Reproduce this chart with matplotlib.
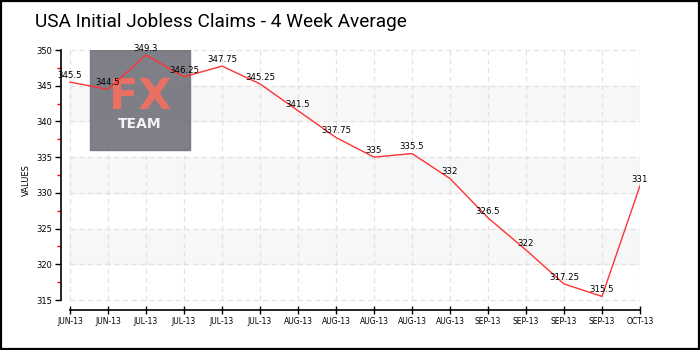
import matplotlib
matplotlib.use("Agg")
import matplotlib.pyplot as plt
from matplotlib.patches import Rectangle

title = "USA Initial Jobless Claims - 4 Week Average"
labels = ["JUN-13", "JUN-13", "JUL-13", "JUL-13", "JUL-13", "JUL-13", "AUG-13", "AUG-13",
          "AUG-13", "AUG-13", "AUG-13", "SEP-13", "SEP-13", "SEP-13", "SEP-13", "OCT-13"]
values = [345.5, 344.5, 349.3, 346.25, 347.75, 345.25, 341.5, 337.75,
          335, 335.5, 332, 326.5, 322, 317.25, 315.5, 331]
value_labels = ["345.5", "344.5", "349.3", "346.25", "347.75", "345.25", "341.5", "337.75",
                "335", "335.5", "332", "326.5", "322", "317.25", "315.5", "331"]
yticks = [315, 320, 325, 330, 335, 340, 345, 350]

W, H = 700, 350
fig = plt.figure(figsize=(7, 3.5), dpi=100)
ax = fig.add_axes([61 / W, (H - 310) / H, (640 - 61) / W, (310 - 50) / H])

x = list(range(len(values)))
ax.set_xlim(-9 / 38, len(values) - 1)
ax.set_ylim(315 - 10 * 35 / 250, 350)

# bands
for lo in (340, 330, 320):
    ax.axhspan(lo, lo + 5, xmin=(9 / 38) / (15 + 9 / 38), xmax=1, color="#f7f7f7", zorder=0)

# grid
for xi in x:
    ax.plot([xi, xi], [315, 350], color="#e2e2e2", lw=0.9, ls=(0, (4, 3)), zorder=1)
for yv in yticks:
    ax.plot([0, len(values) - 1], [yv, yv], color="#e2e2e2", lw=0.9, ls=(0, (4, 3)), zorder=1)

# logo watermark (behind the line)
ax.add_patch(Rectangle((90 / W, (H - 150) / H), 100 / W, 100 / H, transform=fig.transFigure,
                       color="#74747d", alpha=0.92, zorder=2))
ax.text(140 / W, 1 - 109 / H, "FX", transform=fig.transFigure, color="#f07060", fontsize=31,
        ha="center", va="baseline", family="DejaVu Sans", fontweight="bold", alpha=0.95,
        zorder=2.1)
ax.text(140 / W, 1 - 128 / H, "TEAM", transform=fig.transFigure, color="#f4f4f4",
        fontsize=10, ha="center", va="baseline", fontweight="bold", zorder=2.1)

ax.plot(x, values, color="#ff3333", lw=1.0, zorder=3)
for xi, v, lab in zip(x, values, value_labels):
    ax.annotate(lab, (xi, v), xytext=(0, 1.5), textcoords="offset points",
                ha="center", va="bottom", fontsize=6.2, color="black", zorder=4)

for s in ("top", "right"):
    ax.spines[s].set_visible(False)
ax.spines["left"].set_bounds(315, 350)
ax.spines["bottom"].set_bounds(0, len(values) - 1)
ax.spines["left"].set_linewidth(1.2)
ax.spines["bottom"].set_linewidth(1.2)

ax.set_xticks(x)
ax.set_xticklabels(labels, fontsize=5.5)
ax.set_yticks(yticks)
ax.set_yticklabels([str(v) for v in yticks], fontsize=6)
ax.set_yticks([317.5, 322.5, 327.5, 332.5, 337.5, 342.5, 347.5], minor=True)
ax.tick_params(axis="y", which="minor", colors="red", length=3, width=1)
ax.tick_params(axis="y", which="major", length=4, width=1, pad=2)
ax.tick_params(axis="x", which="major", direction="inout", length=6, width=1, pad=2)
ax.set_ylabel("VALUES", fontsize=6, labelpad=4)

fig.text(35 / W, 1 - 22 / H, title, fontsize=13.7, va="center", ha="left",
         family=["Roboto", "DejaVu Sans"])

fig.patches.append(Rectangle((1 / W, 1 / H), 1 - 2 / W, 1 - 2 / H, transform=fig.transFigure,
                             fill=False, ec="black", lw=1.6))

fig.savefig("out.png", dpi=100)
